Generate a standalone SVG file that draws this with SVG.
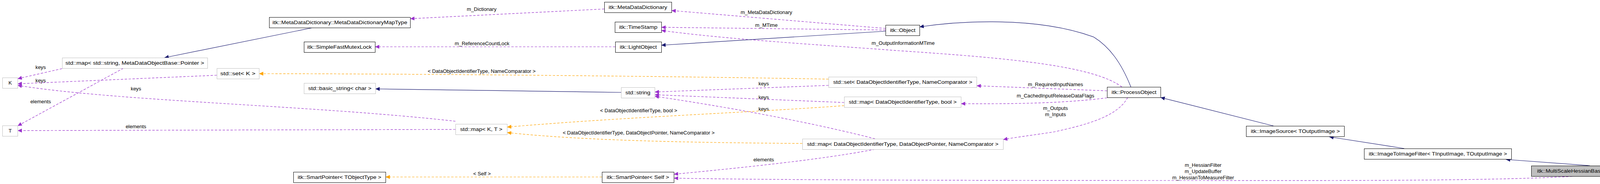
<svg xmlns="http://www.w3.org/2000/svg" width="4563" height="472" viewBox="0 0 4563 472">
<style>
.n rect{fill:#fff;stroke:#000;stroke-width:1}
.n.s rect{stroke:#bfbfbf}
.n.f rect{fill:#bfbfbf}
text{font-family:"Liberation Sans",Arial,sans-serif;font-size:13px;fill:#000}
.n text{text-anchor:middle}
.l{text-anchor:middle}
.e{fill:none;stroke-width:1.2}
.inh{stroke:#191970}
.use{stroke:#9a32cd;stroke-dasharray:6,4}
.tpl{stroke:#ffa500;stroke-dasharray:6,4}
</style>
<defs>
<marker id="an" markerUnits="userSpaceOnUse" markerWidth="12" markerHeight="10" refX="11" refY="5" orient="auto"><path d="M0,0 L11,5 L0,10 z" fill="#191970"/></marker>
<marker id="ap" markerUnits="userSpaceOnUse" markerWidth="12" markerHeight="10" refX="11" refY="5" orient="auto"><path d="M0,0 L11,5 L0,10 z" fill="#9a32cd"/></marker>
<marker id="ao" markerUnits="userSpaceOnUse" markerWidth="12" markerHeight="10" refX="11" refY="5" orient="auto"><path d="M0,0 L11,5 L0,10 z" fill="#ffa500"/></marker>
</defs>
<rect width="4563" height="472" fill="#fff"/>
<g id="edges">
<path class="e inh" marker-end="url(#an)" d="M801,71 L421,148"/>
<path class="e use" marker-end="url(#ap)" d="M1547,23 L1050,48"/>
<text class="l" x="1233" y="28">m_Dictionary</text>
<path class="e use" marker-end="url(#ap)" d="M1575,120 L960,120"/>
<text class="l" x="1234" y="116">m_ReferenceCountLock</text>
<path class="e tpl" marker-end="url(#ao)" d="M2121,203 C1700,195 1000,189 663,189"/>
<text class="l" x="1233" y="187">&lt; DataObjectIdentifierType, NameComparator &gt;</text>
<path class="e inh" marker-end="url(#an)" d="M1590,237 L961,228"/>
<path class="e use" marker-end="url(#ap)" d="M159,176 L45,202"/>
<text class="l" x="104" y="177">keys</text>
<path class="e use" marker-end="url(#ap)" d="M555,193 L45,215"/>
<text class="l" x="104" y="211">keys</text>
<path class="e use" marker-end="url(#ap)" d="M1166,311 C800,270 300,260 45,219"/>
<text class="l" x="348" y="232">keys</text>
<path class="e use" marker-end="url(#ap)" d="M316,175 L45,323"/>
<text class="l" x="104" y="265">elements</text>
<path class="e use" marker-end="url(#ap)" d="M1166,332 L45,335"/>
<text class="l" x="348" y="329">elements</text>
<path class="e use" marker-end="url(#ap)" d="M2267,73 L1719,27"/>
<text class="l" x="1962" y="36">m_MetaDataDictionary</text>
<path class="e use" marker-end="url(#ap)" d="M2267,77 L1693,70"/>
<text class="l" x="1962" y="69">m_MTime</text>
<path class="e use" marker-end="url(#ap)" d="M2872,223 C2800,170 2600,150 2300,130 C2100,115 1850,100 1693,78"/>
<text class="l" x="2312" y="115">m_OutputInformationMTime</text>
<path class="e inh" marker-end="url(#an)" d="M2267,80 L1693,116"/>
<path class="e inh" marker-end="url(#an)" d="M2895,223 C2870,160 2840,120 2800,95 C2650,40 2450,55 2354,69"/>
<path class="e use" marker-end="url(#ap)" d="M2834,233 L2500,220"/>
<text class="l" x="2702" y="221">m_RequiredInputNames</text>
<path class="e use" marker-end="url(#ap)" d="M2834,251 C2700,268 2550,266 2460,266"/>
<text class="l" x="2702" y="250">m_CachedInputReleaseDataFlags</text>
<path class="e use" marker-end="url(#ap)" d="M2887,250 C2860,300 2780,320 2700,338 C2650,346 2600,352 2568,358"/>
<text class="l" x="2702" y="282">m_Outputs</text>
<text class="l" x="2702" y="298">m_Inputs</text>
<path class="e use" marker-end="url(#ap)" d="M2121,219 L1676,236"/>
<text class="l" x="1955" y="219">keys</text>
<path class="e use" marker-end="url(#ap)" d="M2161,263 L1676,243"/>
<text class="l" x="1955" y="254">keys</text>
<path class="e use" marker-end="url(#ap)" d="M2240,356 C2100,320 1900,280 1676,247"/>
<text class="l" x="1955" y="284">keys</text>
<path class="e tpl" marker-end="url(#ao)" d="M2161,271 C1900,290 1600,300 1298,326"/>
<text class="l" x="1635" y="288">&lt; DataObjectIdentifierType, bool &gt;</text>
<path class="e tpl" marker-end="url(#ao)" d="M2054,368 C1800,366 1500,362 1298,340"/>
<text class="l" x="1635" y="345">&lt; DataObjectIdentifierType, DataObjectPointer, NameComparator &gt;</text>
<path class="e tpl" marker-end="url(#ao)" d="M1541,454 L987,454"/>
<text class="l" x="1234" y="450">&lt; Self &gt;</text>
<path class="e use" marker-end="url(#ap)" d="M2240,383 C2100,410 1900,430 1725,447"/>
<text class="l" x="1955" y="414">elements</text>
<path class="e use" marker-end="url(#ap)" d="M4035,452 C3800,465 3400,463 3000,463 C2500,463 2000,462 1725,457"/>
<text class="l" x="3080" y="428">m_HessianFilter</text>
<text class="l" x="3080" y="444">m_UpdateBuffer</text>
<text class="l" x="3080" y="460">m_HessianToMeasureFilter</text>
<path class="e inh" marker-end="url(#an)" d="M3260,323 L2971,250"/>
<path class="e inh" marker-end="url(#an)" d="M3595,381 L3403,351"/>
<path class="e inh" marker-end="url(#an)" d="M4070,425 L3855,409"/>
</g>
<g id="n_mapType" class="n"><rect x="689.5" y="44.5" width="361" height="27"/><text x="870" y="62" textLength="345" lengthAdjust="spacingAndGlyphs">itk::MetaDataDictionary::MetaDataDictionaryMapType</text></g>
<g id="n_mutex" class="n"><rect x="778.5" y="107.5" width="182" height="27"/><text x="869" y="125" textLength="165" lengthAdjust="spacingAndGlyphs">itk::SimpleFastMutexLock</text></g>
<g id="n_mapStr" class="n s"><rect x="159.5" y="148.5" width="372" height="27"/><text x="345" y="166" textLength="355" lengthAdjust="spacingAndGlyphs">std::map&lt; std::string, MetaDataObjectBase::Pointer &gt;</text></g>
<g id="n_setK" class="n s"><rect x="555.5" y="175.5" width="108" height="27"/><text x="609" y="193" textLength="90" lengthAdjust="spacingAndGlyphs">std::set&lt; K &gt;</text></g>
<g id="n_K" class="n s"><rect x="6.5" y="199.5" width="39" height="27"/><text x="26" y="217">K</text></g>
<g id="n_basic" class="n s"><rect x="778.5" y="213.5" width="183" height="27"/><text x="870" y="231" textLength="162" lengthAdjust="spacingAndGlyphs">std::basic_string&lt; char &gt;</text></g>
<g id="n_T" class="n s"><rect x="6.5" y="322.5" width="39" height="27"/><text x="26" y="340">T</text></g>
<g id="n_spT" class="n"><rect x="751.5" y="441.5" width="236" height="27"/><text x="869" y="459" textLength="214" lengthAdjust="spacingAndGlyphs">itk::SmartPointer&lt; TObjectType &gt;</text></g>
<g id="n_mdd" class="n"><rect x="1547.5" y="5.5" width="172" height="27"/><text x="1633" y="23" textLength="150" lengthAdjust="spacingAndGlyphs">itk::MetaDataDictionary</text></g>
<g id="n_ts" class="n"><rect x="1574.5" y="56.5" width="119" height="27"/><text x="1634" y="74" textLength="98" lengthAdjust="spacingAndGlyphs">itk::TimeStamp</text></g>
<g id="n_lo" class="n"><rect x="1575.5" y="107.5" width="118" height="27"/><text x="1634" y="125" textLength="95" lengthAdjust="spacingAndGlyphs">itk::LightObject</text></g>
<g id="n_str" class="n s"><rect x="1590.5" y="224.5" width="86" height="27"/><text x="1633" y="242" textLength="64" lengthAdjust="spacingAndGlyphs">std::string</text></g>
<g id="n_mapKT" class="n s"><rect x="1166.5" y="318.5" width="132" height="27"/><text x="1232" y="336" textLength="108" lengthAdjust="spacingAndGlyphs">std::map&lt; K, T &gt;</text></g>
<g id="n_spSelf" class="n"><rect x="1541.5" y="441.5" width="184" height="27"/><text x="1633" y="459" textLength="160" lengthAdjust="spacingAndGlyphs">itk::SmartPointer&lt; Self &gt;</text></g>
<g id="n_obj" class="n"><rect x="2267.5" y="64.5" width="87" height="27"/><text x="2311" y="82" textLength="65" lengthAdjust="spacingAndGlyphs">itk::Object</text></g>
<g id="n_setDO" class="n s"><rect x="2121.5" y="197.5" width="379" height="27"/><text x="2311" y="215" textLength="356" lengthAdjust="spacingAndGlyphs">std::set&lt; DataObjectIdentifierType, NameComparator &gt;</text></g>
<g id="n_mapBool" class="n s"><rect x="2161.5" y="248.5" width="299" height="27"/><text x="2311" y="266" textLength="276" lengthAdjust="spacingAndGlyphs">std::map&lt; DataObjectIdentifierType, bool &gt;</text></g>
<g id="n_mapDOP" class="n s"><rect x="2054.5" y="356.5" width="514" height="27"/><text x="2311" y="374" textLength="490" lengthAdjust="spacingAndGlyphs">std::map&lt; DataObjectIdentifierType, DataObjectPointer, NameComparator &gt;</text></g>
<g id="n_po" class="n"><rect x="2834.5" y="223.5" width="137" height="27"/><text x="2903" y="241" textLength="115" lengthAdjust="spacingAndGlyphs">itk::ProcessObject</text></g>
<g id="n_is" class="n"><rect x="3190.5" y="323.5" width="251" height="27"/><text x="3316" y="341" textLength="228" lengthAdjust="spacingAndGlyphs">itk::ImageSource&lt; TOutputImage &gt;</text></g>
<g id="n_itif" class="n"><rect x="3492.5" y="381.5" width="377" height="27"/><text x="3681" y="399" textLength="354" lengthAdjust="spacingAndGlyphs">itk::ImageToImageFilter&lt; TInputImage, TOutputImage &gt;</text></g>
<g id="n_ms" class="n f"><rect x="3920.5" y="425.5" width="641" height="27"/><text x="4240" y="443" textLength="610" lengthAdjust="spacingAndGlyphs">itk::MultiScaleHessianBasedMeasureImageFilter&lt; TInputImage, THessianImage, TOutputImage &gt;</text></g>
</svg>
